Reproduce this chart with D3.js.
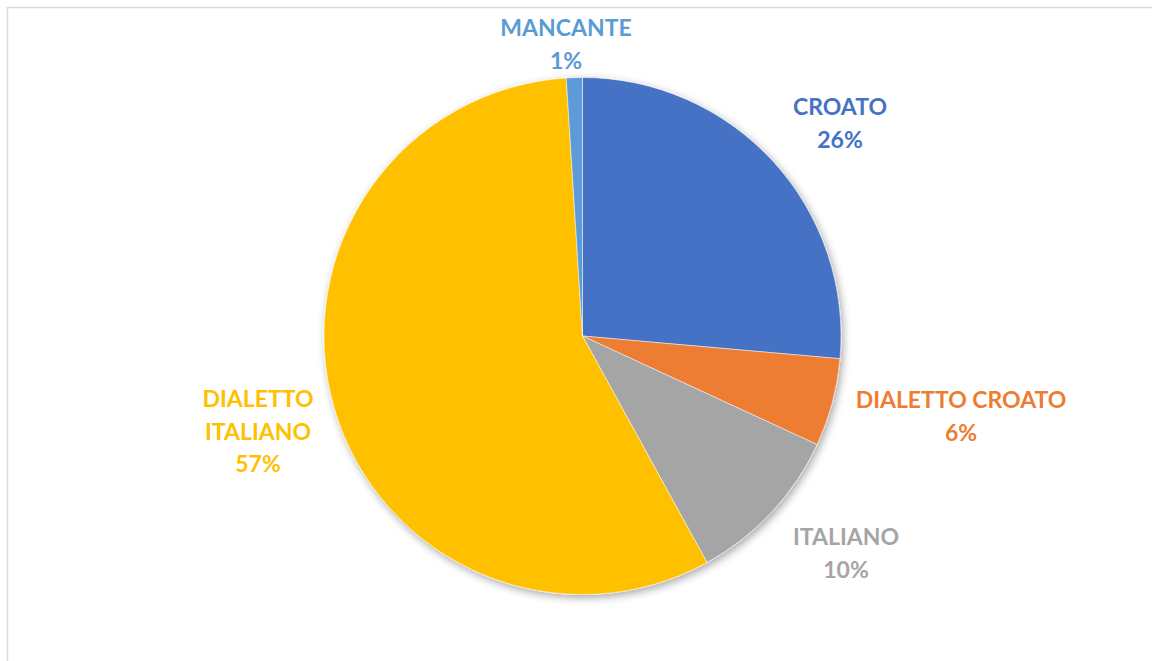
<!DOCTYPE html>
<html>
<head>
<meta charset="utf-8">
<script src="https://cdn.jsdelivr.net/npm/d3@7/dist/d3.min.js"></script>
<style>
  html, body { margin: 0; padding: 0; background: #fff; }
  svg { display: block; }
  text { font-family: Lato, "Open Sans", "Liberation Sans", sans-serif; font-weight: bold; }
</style>
</head>
<body>
<svg id="chart" width="1152" height="661"></svg>
<script>
const categories = ["CROATO", "DIALETTO CROATO", "ITALIANO", "DIALETTO ITALIANO", "MANCANTE"];
const values = [26.4, 5.5, 10.1, 57.0, 1.0];
const colors = ["#4472C4", "#ED7D31", "#A5A5A5", "#FFC000", "#5B9BD5"];
const labelLines = [["CROATO"], ["DIALETTO CROATO"], ["ITALIANO"], ["DIALETTO", "ITALIANO"], ["MANCANTE"]];

const W = 1152, H = 661;
const cx = 582.5, cy = 336, R = 258.5;

const svg = d3.select("#chart");

// chart frame
svg.append("rect").attr("x", 7.5).attr("y", 7.5).attr("width", W).attr("height", H)
  .attr("fill", "#fff").attr("stroke", "#d9d9d9").attr("stroke-width", 1.5);

const defs = svg.append("defs");
const f = defs.append("filter").attr("id", "shadow").attr("x", "-20%").attr("y", "-20%").attr("width", "140%").attr("height", "140%");
f.append("feGaussianBlur").attr("in", "SourceAlpha").attr("stdDeviation", 4).attr("result", "blur");
f.append("feOffset").attr("in", "blur").attr("dx", 2).attr("dy", 3).attr("result", "off");
f.append("feComponentTransfer").attr("in", "off").attr("result", "sh")
  .append("feFuncA").attr("type", "linear").attr("slope", 0.35);
const m = f.append("feMerge");
m.append("feMergeNode").attr("in", "sh");
m.append("feMergeNode").attr("in", "SourceGraphic");

const data = categories.map((c, i) => ({ cat: c, value: values[i], color: colors[i], lines: labelLines[i] }));
const total = d3.sum(values);

const pie = d3.pie().value(d => d.value).sort(null);
const arc = d3.arc().innerRadius(0).outerRadius(R);
const arcs = pie(data);

const g = svg.append("g").attr("transform", `translate(${cx},${cy})`);
g.append("g").attr("filter", "url(#shadow)")
  .selectAll("path").data(arcs).enter().append("path")
  .attr("d", arc)
  .attr("fill", d => d.data.color)
  .attr("stroke", "#fff").attr("stroke-width", 0.5);

// label anchor positions (center x, first baseline), relative to chart
const labelPos = {
  "CROATO": [840, 115],
  "DIALETTO CROATO": [961, 408],
  "ITALIANO": [846, 545],
  "DIALETTO ITALIANO": [258, 407],
  "MANCANTE": [566, 36]
};
const lineH = 32.5;

data.forEach(d => {
  const [x, y] = labelPos[d.cat];
  const pct = Math.round(d.value / total * 100) + "%";
  const lines = d.lines.concat([pct]);
  const t = svg.append("text").attr("text-anchor", "middle").attr("fill", d.color)
    .style("font-size", "23px");
  lines.forEach((ln, i) => {
    t.append("tspan").attr("x", x).attr("y", y + i * lineH).text(ln);
  });
});
</script>
</body>
</html>
